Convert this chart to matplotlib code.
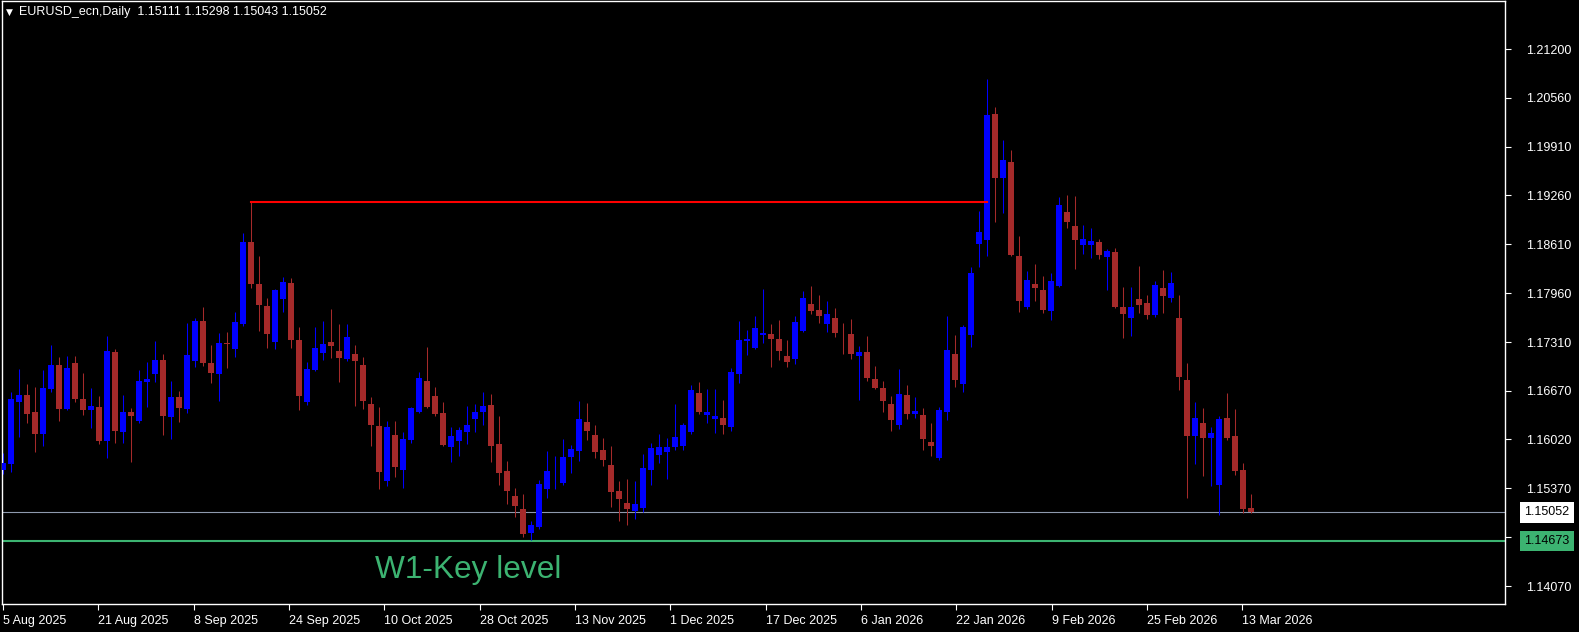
import numpy as np
import matplotlib.pyplot as plt
from matplotlib.transforms import blended_transform_factory

# EURUSD daily candles, 5 Aug 2025 .. 13 Mar 2026 (one entry per bar)
opens = [
    1.15614, 1.15698, 1.16521, 1.16610, 1.16385, 1.16096, 1.16690, 1.17009, 1.16421, 1.17035,
    1.16557, 1.16415, 1.16451, 1.16000, 1.17181, 1.16119, 1.16385, 1.16265, 1.16783, 1.16893,
    1.17075, 1.16318, 1.16584, 1.16425, 1.17062, 1.17593, 1.17035, 1.16893, 1.17301, 1.17225,
    1.17553, 1.18642, 1.18085, 1.17792, 1.17314, 1.17889, 1.18098, 1.17341, 1.16517, 1.16942,
    1.17168, 1.17314, 1.17195, 1.17089, 1.17155, 1.17009, 1.16491, 1.16199, 1.15468, 1.16079,
    1.15614, 1.16013, 1.16385, 1.16796, 1.16597, 1.16371, 1.15920, 1.16000, 1.16119, 1.16292,
    1.16385, 1.16478, 1.15960, 1.15601, 1.15269, 1.15097, 1.14778, 1.14857, 1.15362, 1.15515,
    1.15442, 1.15787, 1.15867, 1.16252, 1.16079, 1.15880, 1.15681, 1.15336, 1.15176, 1.15070,
    1.15110, 1.15614, 1.15814, 1.15853, 1.15920, 1.15933, 1.16119, 1.16637, 1.16345, 1.16292,
    1.16305, 1.16185, 1.16889, 1.17328, 1.17235, 1.17407, 1.17420, 1.17354, 1.17128, 1.17089,
    1.17460, 1.17819, 1.17739, 1.17553, 1.17633, 1.17407, 1.17420, 1.17128, 1.17181, 1.16823,
    1.16703, 1.16491, 1.16212, 1.16610, 1.16358, 1.16345, 1.15986, 1.15774, 1.16385, 1.17155,
    1.16756, 1.17407, 1.18616, 1.18669, 1.20342, 1.19492, 1.19705, 1.18456, 1.17779, 1.18085,
    1.18005, 1.17726, 1.18058, 1.19041, 1.18855, 1.18602, 1.18602, 1.18642, 1.18443, 1.18509,
    1.17779, 1.17633, 1.17885, 1.17832, 1.17673, 1.18031, 1.17899, 1.17633, 1.16810, 1.16066,
    1.16239, 1.16039, 1.15415, 1.16305, 1.16066, 1.15614, 1.15111,
]
highs = [
    1.15840, 1.16654, 1.16956, 1.16756, 1.16717, 1.16942, 1.17274, 1.17115, 1.17128, 1.17128,
    1.16903, 1.16703, 1.16597, 1.17394, 1.17221, 1.16610, 1.16438, 1.16942, 1.17049, 1.17328,
    1.17155, 1.16796, 1.16664, 1.17567, 1.17633, 1.17779, 1.17274, 1.17434, 1.17447, 1.17713,
    1.18762, 1.19173, 1.18456, 1.17899, 1.18018, 1.18177, 1.18164, 1.17513, 1.17049, 1.17513,
    1.17593, 1.17753, 1.17553, 1.17553, 1.17274, 1.17115, 1.16584, 1.16451, 1.16265, 1.16265,
    1.16119, 1.16451, 1.16916, 1.17248, 1.16717, 1.16517, 1.16185, 1.16185, 1.16464, 1.16491,
    1.16650, 1.16624, 1.16332, 1.15734, 1.15375, 1.15296, 1.14937, 1.15482, 1.15867, 1.15800,
    1.16026, 1.15946, 1.16531, 1.16504, 1.16212, 1.16039, 1.15933, 1.15468, 1.15495, 1.15468,
    1.15827, 1.15973, 1.16093, 1.16039, 1.16491, 1.16239, 1.16743, 1.16783, 1.16690, 1.16690,
    1.16544, 1.16969, 1.17593, 1.17474, 1.17660, 1.18018, 1.17553, 1.17606, 1.17341, 1.17660,
    1.17992, 1.18058, 1.17938, 1.17859, 1.17766, 1.17567, 1.17620, 1.17261, 1.17394, 1.16996,
    1.16796, 1.16597, 1.16956, 1.16743, 1.16584, 1.16438, 1.16239, 1.16451, 1.17660, 1.17407,
    1.17540, 1.18310, 1.19054, 1.20807, 1.20435, 1.19997, 1.19864, 1.18722, 1.18257, 1.18350,
    1.18191, 1.18231, 1.19240, 1.19266, 1.19253, 1.18868, 1.18828, 1.18682, 1.18550, 1.18563,
    1.18045, 1.18045, 1.18324, 1.17938, 1.18124, 1.18270, 1.18244, 1.17938, 1.17035, 1.16517,
    1.16438, 1.16185, 1.16332, 1.16637, 1.16425, 1.15707, 1.15298,
]
lows = [
    1.15561, 1.15588, 1.16053, 1.16242, 1.15857, 1.15933, 1.16650, 1.16265, 1.16411, 1.16521,
    1.16345, 1.16176, 1.15964, 1.15778, 1.15973, 1.15973, 1.15721, 1.16239, 1.16451, 1.16783,
    1.16079, 1.16026, 1.16252, 1.16371, 1.16982, 1.16996, 1.16770, 1.16531, 1.16969, 1.17119,
    1.17531, 1.18031, 1.17460, 1.17235, 1.17221, 1.17713, 1.17235, 1.16411, 1.16478, 1.16929,
    1.17075, 1.17102, 1.16783, 1.17062, 1.16464, 1.16425, 1.15933, 1.15362, 1.15402, 1.15521,
    1.15375, 1.15973, 1.16371, 1.16440, 1.16332, 1.15933, 1.15721, 1.15800, 1.15960, 1.16119,
    1.16212, 1.15721, 1.15415, 1.15163, 1.14990, 1.14725, 1.14685, 1.14831, 1.15243, 1.15362,
    1.15415, 1.15575, 1.15734, 1.16013, 1.15774, 1.15668, 1.15123, 1.14937, 1.14884, 1.14964,
    1.15057, 1.15415, 1.15707, 1.15495, 1.15880, 1.15880, 1.16093, 1.16358, 1.16239, 1.16106,
    1.16093, 1.16132, 1.16770, 1.17142, 1.17221, 1.17301, 1.16982, 1.17075, 1.16982, 1.17022,
    1.17447, 1.17686, 1.17567, 1.17447, 1.17381, 1.17155, 1.17089, 1.16544, 1.16796, 1.16690,
    1.16385, 1.16132, 1.16159, 1.16292, 1.16305, 1.15880, 1.15800, 1.15747, 1.16278, 1.16717,
    1.16650, 1.17248, 1.18310, 1.18456, 1.18908, 1.19027, 1.18456, 1.17713, 1.17753, 1.17859,
    1.17699, 1.17606, 1.18045, 1.18828, 1.18284, 1.18483, 1.18430, 1.18417, 1.18005, 1.17766,
    1.17367, 1.17394, 1.17699, 1.17620, 1.17646, 1.17699, 1.17845, 1.16677, 1.15243, 1.15694,
    1.15535, 1.15402, 1.15017, 1.16013, 1.15548, 1.15043, 1.15043,
]
closes = [
    1.15707, 1.16557, 1.16610, 1.16358, 1.16096, 1.16703, 1.17009, 1.16425, 1.16969, 1.16561,
    1.16411, 1.16464, 1.16004, 1.17195, 1.16132, 1.16385, 1.16332, 1.16796, 1.16823, 1.17075,
    1.16332, 1.16584, 1.16438, 1.17142, 1.17593, 1.17035, 1.16903, 1.17301, 1.17294, 1.17580,
    1.18642, 1.18085, 1.17806, 1.17420, 1.18005, 1.18111, 1.17341, 1.16597, 1.16956, 1.17235,
    1.17288, 1.17261, 1.17102, 1.17381, 1.17062, 1.16531, 1.16212, 1.15588, 1.16185, 1.15654,
    1.16026, 1.16438, 1.16836, 1.16451, 1.16358, 1.15946, 1.16066, 1.16146, 1.16212, 1.16385,
    1.16464, 1.15933, 1.15575, 1.15336, 1.15136, 1.14765, 1.14884, 1.15429, 1.15601, 1.15521,
    1.15787, 1.15893, 1.16292, 1.16132, 1.15853, 1.15747, 1.15322, 1.15229, 1.15097, 1.15163,
    1.15641, 1.15907, 1.15920, 1.15920, 1.16053, 1.16212, 1.16677, 1.16385, 1.16385, 1.16332,
    1.16212, 1.16916, 1.17341, 1.17354, 1.17500, 1.17434, 1.17354, 1.17195, 1.17049, 1.17580,
    1.17899, 1.17726, 1.17660, 1.17686, 1.17434, 1.17401, 1.17155, 1.17181, 1.16836, 1.16703,
    1.16531, 1.16278, 1.16624, 1.16358, 1.16398, 1.16026, 1.15933, 1.16411, 1.17208, 1.16810,
    1.17513, 1.18231, 1.18775, 1.20329, 1.19492, 1.19731, 1.18470, 1.17859, 1.18138, 1.18031,
    1.17739, 1.18124, 1.19134, 1.18908, 1.18669, 1.18682, 1.18656, 1.18470, 1.18523, 1.17779,
    1.17686, 1.17779, 1.17806, 1.17673, 1.18071, 1.17925, 1.18098, 1.16849, 1.16066, 1.16305,
    1.16039, 1.16106, 1.16292, 1.16039, 1.15601, 1.15100, 1.15052,
]

date_labels = ['5 Aug 2025', '21 Aug 2025', '8 Sep 2025', '24 Sep 2025', '10 Oct 2025',
               '28 Oct 2025', '13 Nov 2025', '1 Dec 2025', '17 Dec 2025', '6 Jan 2026',
               '22 Jan 2026', '9 Feb 2026', '25 Feb 2026', '13 Mar 2026']
price_ticks = [1.21200, 1.20560, 1.19910, 1.19260, 1.18610, 1.17960, 1.17310,
               1.16670, 1.16020, 1.15370, 1.14720, 1.14070]

current_price = 1.15052
key_level = 1.14673
breakout_bar = 123   # where the red level line ends
swing_bar = 31       # Sep high the red line starts from

o = np.array(opens); h = np.array(highs); l = np.array(lows); c = np.array(closes)
x = np.arange(len(o))
bull = c >= o
bull_col, bear_col = '#0000FF', '#A52A2A'
cols = np.where(bull, bull_col, bear_col)

plt.rcParams['font.family'] = ['Liberation Sans', 'DejaVu Sans']
FS = 9

W, H = 1579, 632
fig = plt.figure(figsize=(W / 100, H / 100), dpi=100, facecolor='black')
ax = fig.add_axes([2 / W, 28 / H, 1503 / W, 603 / H], facecolor='black')

# candles
ax.vlines(x, l, h, colors=cols, linewidth=0.75, zorder=2)
body = np.maximum(np.abs(c - o), 0.00009)
ax.bar(x, body, bottom=np.minimum(o, c), width=0.64, color=cols, linewidth=0, zorder=3)

# levels
ax.plot([swing_bar, breakout_bar], [h[swing_bar], h[swing_bar]], color='#FF0000', lw=1.5, zorder=4)
ax.axhline(current_price, color='#8E99AD', lw=0.8, zorder=1)
ax.axhline(key_level, color='#3CB371', lw=1.5, zorder=1)
ax.text(46.5, 1.14180, 'W1-Key level', color='#3CB371', fontsize=22.8,
        ha='left', va='baseline', zorder=5)

ax.set_xlim(-0.125, 187.75)
ax.set_ylim(1.13835, 1.21843)

# axes styling in MT4 look
for s in ax.spines.values():
    s.set_color('white')
    s.set_linewidth(1)
ax.yaxis.tick_right()
ax.set_yticks(price_ticks)
ax.set_yticklabels([f'{p:.5f}' for p in price_ticks])
ax.set_xticks(np.arange(len(date_labels)) * 11.915)
ax.set_xticklabels(date_labels, ha='left')
ax.tick_params(colors='white', labelcolor='white', labelsize=FS, length=4, width=0.8)
ax.tick_params(axis='y', pad=11)
ax.tick_params(axis='x', pad=4)

# price labels on the right axis
tr = blended_transform_factory(ax.transAxes, ax.transData)
ax.text(1.0128, current_price, f'{current_price:.5f}', transform=tr, color='black',
        fontsize=FS, ha='left', va='center', zorder=6,
        bbox=dict(boxstyle='square,pad=0.35', fc='white', ec='none'))
ax.text(1.0128, key_level, f'{key_level:.5f}', transform=tr, color='black',
        fontsize=FS, ha='left', va='center', zorder=6,
        bbox=dict(boxstyle='square,pad=0.35', fc='#3CB371', ec='none'))

# header
fig.text(6 / W, 1 - 12 / H, '\u25BC', color='white', fontsize=6.5, family='DejaVu Sans',
         ha='left', va='center')
fig.text(19 / W, 1 - 12 / H,
         f'EURUSD_ecn,Daily  {o[-1]:.5f} {h[-1]:.5f} {l[-1]:.5f} {c[-1]:.5f}',
         color='white', fontsize=FS, ha='left', va='center')

fig.savefig('out.png', dpi=100, facecolor='black')
